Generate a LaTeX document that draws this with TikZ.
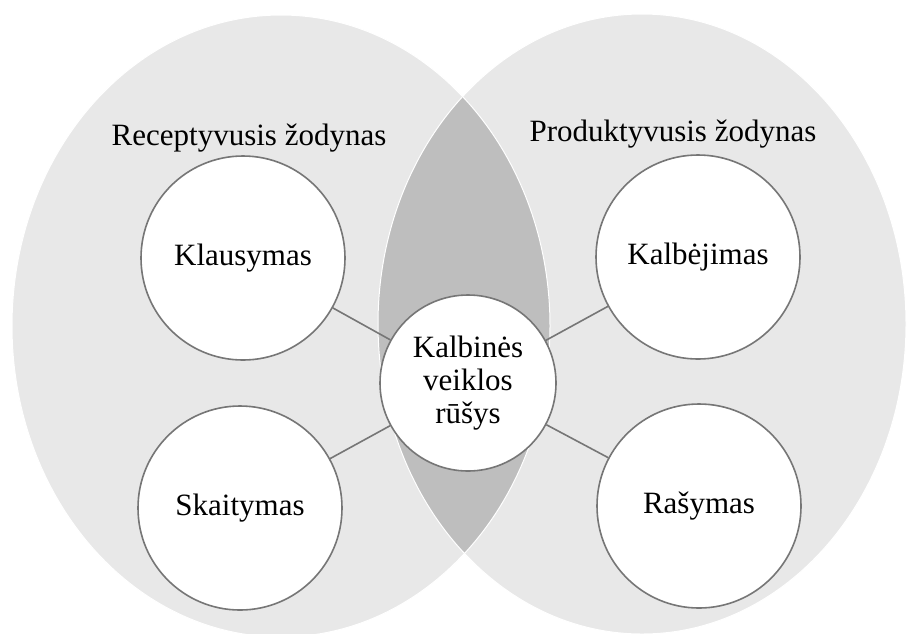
\documentclass[tikz,border=0pt]{standalone}
\usepackage{fontspec}
\setmainfont{Liberation Serif}
\usetikzlibrary{positioning}
\definecolor{VennGray}{RGB}{232,232,232}
\definecolor{LensGray}{RGB}{190,190,190}
\definecolor{RimGray}{RGB}{118,118,118}

\begin{document}
\begin{tikzpicture}[x=1pt,y=-1pt,
  act/.style={circle,draw=RimGray,line width=1.6pt,fill=white,minimum size=204pt,inner sep=0pt,font=\fontsize{31}{33}\selectfont},
  head/.style={font=\fontsize{31}{33}\selectfont},
  link/.style={draw=RimGray,line width=1.6pt}]
\useasboundingbox (0,0) rectangle (912,633);
\begin{scope}
\clip (0,0) rectangle (912,633);
% the two vocabularies
\fill[VennGray] (281,326) ellipse [x radius=269,y radius=311];
\fill[VennGray] (642,324) ellipse [x radius=264,y radius=310];
\begin{scope}
\clip (281,326) ellipse [x radius=269,y radius=311];
\fill[LensGray] (642,324) ellipse [x radius=264,y radius=310];
\end{scope}
\draw[white,line width=1pt] (281,326) ellipse [x radius=269,y radius=311];
\draw[white,line width=1pt] (642,324) ellipse [x radius=264,y radius=310];
\end{scope}
\node[head] (recep) at (249,138) {Receptyvusis žodynas};
\node[head] (produk) at (673,134) {Produktyvusis žodynas};
% activities
\node[act] (klaus) at (243,258) {Klausymas};
\node[act] (skait) at (240,508) {Skaitymas};
\node[act] (kalb) at (698,257) {Kalbėjimas};
\node[act] (rasym) at (699,506) {Rašymas};
\node[act,minimum size=176pt,align=center] (veik) at (468,383) {Kalbinės\\veiklos\\rūšys};
\draw[link] (veik) -- (klaus);
\draw[link] (veik) -- (skait);
\draw[link] (veik) -- (kalb);
\draw[link] (veik) -- (rasym);
\end{tikzpicture}
\end{document}
